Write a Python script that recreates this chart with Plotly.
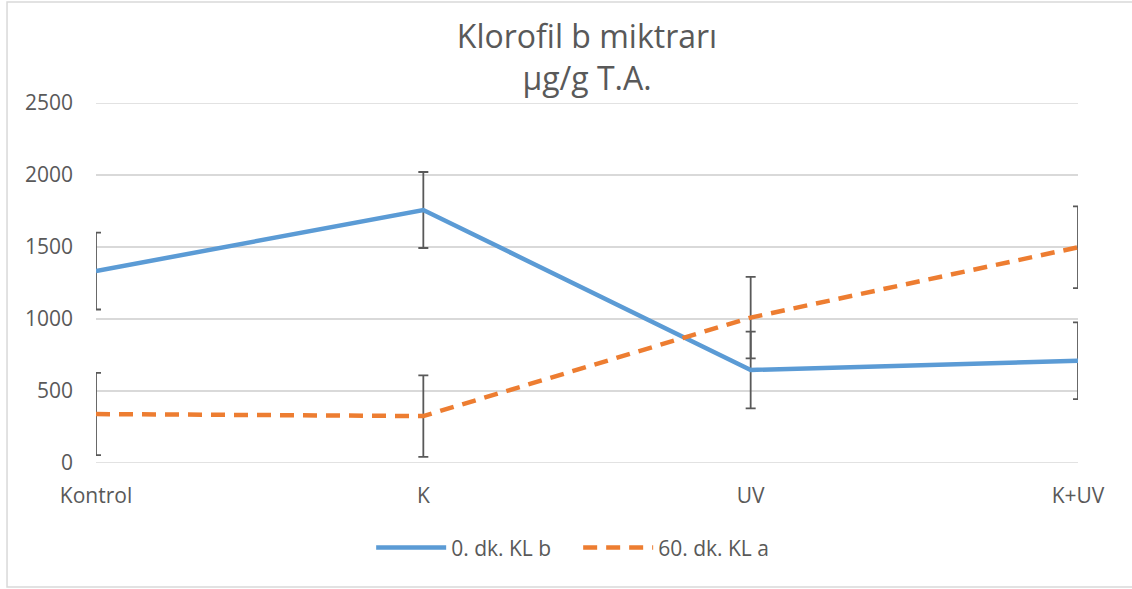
import plotly.graph_objects as go

# categories and values
categories = ['Kontrol', 'K', 'UV', 'K+UV']
kl_b_0 = [1333, 1757, 646, 710]
kl_b_0_err = [267, 264, 266, 266]
kl_a_60 = [340, 326, 1010, 1498]
kl_a_60_err = [286, 283, 283, 284]
y_ticks = [0, 500, 1000, 1500, 2000, 2500]

FONT = 'Open Sans, DejaVu Sans, sans-serif'
GRAY_TXT = '#595959'
GRID = '#D9D9D9'
ERR = '#595959'


def err_bar(vals):
    return dict(type='data', array=vals, visible=True,
                color=ERR, thickness=1.8, width=5)


fig = go.Figure()
fig.add_trace(go.Scatter(x=categories, y=kl_b_0, mode='lines', name='0. dk. KL b',
                         line=dict(color='#5B9BD5', width=4.5),
                         error_y=err_bar(kl_b_0_err)))
fig.add_trace(go.Scatter(x=categories, y=kl_a_60, mode='lines', name='60. dk. KL a',
                         line=dict(color='#ED7D31', width=4.5, dash='14px,9px'),
                         error_y=err_bar(kl_a_60_err)))

# chart border (open on the right, like the reference crop)
shapes = [dict(type='rect', xref='paper', yref='paper',
               x0=-0.0906, x1=1.063, y0=-0.3444, y1=1.2806,
               line=dict(color=GRID, width=1.5), layer='below')]
# gridlines at the range ends (plotly hides those)
for yv in (y_ticks[0], y_ticks[-1]):
    shapes.append(dict(type='line', xref='paper', yref='y', x0=0, x1=1,
                       y0=yv, y1=yv, line=dict(color=GRID, width=1.5),
                       layer='below'))

fig.update_layout(
    width=1132,
    height=589,
    paper_bgcolor='white',
    plot_bgcolor='white',
    font=dict(family=FONT, size=21, color=GRAY_TXT),
    margin={'l': 96,
            'r': 54,
            't': 103,
            'b': 126},
    title=dict(text='Klorofil b miktrarı<br>µg/g T.A.',
               x=0.5, xref='paper', xanchor='center',
               y=1 - 48 / 589, yref='container', yanchor='middle',
               font=dict(family=FONT, size=32, color=GRAY_TXT)),
    showlegend=True,
    legend=dict(orientation='h', x=0.491, xanchor='center', xref='paper',
                y=-0.236, yanchor='middle', itemwidth=70,
                entrywidth=122, entrywidthmode='pixels',
                font=dict(family=FONT, size=21, color=GRAY_TXT)),
    shapes=shapes,
)
fig.update_xaxes(range=[0, 3], showgrid=False, zeroline=False, showline=False,
                 ticks='', ticklabelstandoff=18,
                 tickfont=dict(size=21, color=GRAY_TXT))
fig.update_yaxes(range=[0, 2500], tickvals=y_ticks, showgrid=True, gridcolor=GRID,
                 gridwidth=1.5, zeroline=False, showline=False, ticks='',
                 ticklabelstandoff=22, tickfont=dict(size=21, color=GRAY_TXT))

# drop the default 8px body margin so the figure fills the window exactly
fig.write_html("out.html", config={'displayModeBar': False},
               post_script="document.body.style.margin='0px';")
